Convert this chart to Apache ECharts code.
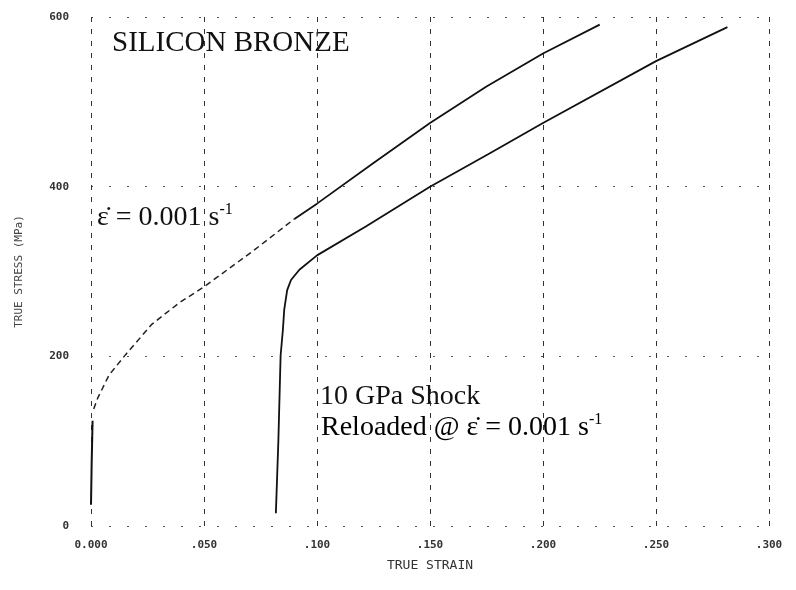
<!DOCTYPE html>
<html>
<head>
<meta charset="utf-8">
<script src="https://cdn.jsdelivr.net/npm/echarts@6/dist/echarts.min.js"></script>
<style>
html,body{margin:0;padding:0;background:#fff;}
#chart{width:796px;height:590px;}
</style>
</head>
<body>
<div id="chart"></div>
<script>
// x ticks / labels
const xTicks = [0, 0.05, 0.10, 0.15, 0.20, 0.25, 0.30];
const xTickLabels = ['0.000', '.050', '.100', '.150', '.200', '.250', '.300'];
const yTicks = [0, 200, 400, 600];

// As-received curve (strain, stress MPa)
const upperElasticStrain = [0.0000, 0.0003, 0.0007];
const upperElasticStress = [25, 75, 124];
const upperMidStrain = [0.0012, 0.0030, 0.0080, 0.0153, 0.0270, 0.0390, 0.0500, 0.0716, 0.0900];
const upperMidStress = [138, 151, 178, 202, 238, 263, 282, 324, 362];
const upperHighStrain = [0.0900, 0.1000, 0.1250, 0.1500, 0.1750, 0.2000, 0.2251];
const upperHighStress = [362, 380, 428, 475, 518, 557, 591];

// 10 GPa shocked, reloaded curve
const shockStrain = [0.0818, 0.0829, 0.0839, 0.0849, 0.0855, 0.0868, 0.0885, 0.0922, 0.1000, 0.1216, 0.1500, 0.1763, 0.2000, 0.2500, 0.2816];
const shockStress = [15, 100, 201, 231, 255, 278, 290, 302, 319, 353, 400, 439, 475, 548, 588];

function pairs(xs, ys) { return xs.map((x, i) => [x, ys[i]]); }

const chart = echarts.init(document.getElementById('chart'));
const lineColor = '#111';
const serif = '"Liberation Serif", "DejaVu Serif", serif';
const mono = '"DejaVu Sans Mono", "Liberation Mono", monospace';

chart.setOption({
  backgroundColor: '#fff',
  animation: false,
  grid: { left: 91, right: 27, top: 17, bottom: 64 },
  xAxis: {
    type: 'value', min: 0, max: 0.30, interval: 0.05,
    name: 'TRUE STRAIN', nameLocation: 'middle', nameGap: 33,
    nameTextStyle: { fontFamily: mono, fontSize: 13, color: '#333' },
    axisLine: { show: false }, axisTick: { show: false },
    axisLabel: {
      margin: 14, fontFamily: mono, fontSize: 11, fontWeight: 'bold', color: '#333',
      formatter: v => { const i = xTicks.findIndex(t => Math.abs(t - v) < 1e-9); return i >= 0 ? xTickLabels[i] : ''; }
    },
    splitLine: { show: true, lineStyle: { color: '#333', width: 1, type: [5, 7] } }
  },
  yAxis: {
    type: 'value', min: 0, max: 600, interval: 200,
    name: 'TRUE STRESS (MPa)', nameLocation: 'middle', nameGap: 66, nameRotate: 90,
    nameTextStyle: { fontFamily: mono, fontSize: 11, color: '#444' },
    axisLine: { show: false }, axisTick: { show: false },
    axisLabel: { margin: 22, fontFamily: mono, fontSize: 11, fontWeight: 'bold', color: '#333',
      formatter: v => yTicks.includes(v) ? String(v) : '' },
    splitLine: { show: true, lineStyle: { color: '#555', width: 1, type: [2, 16] } }
  },
  series: [
    { type: 'line', data: pairs(upperElasticStrain, upperElasticStress), showSymbol: false,
      lineStyle: { color: lineColor, width: 2 } },
    { type: 'line', data: pairs(upperMidStrain, upperMidStress), showSymbol: false,
      lineStyle: { color: '#222', width: 1.5, type: [6, 4] } },
    { type: 'line', data: pairs(upperHighStrain, upperHighStress), showSymbol: false,
      lineStyle: { color: lineColor, width: 1.8 } },
    { type: 'line', data: pairs(shockStrain, shockStress), showSymbol: false,
      lineStyle: { color: lineColor, width: 1.8 } }
  ],
  graphic: [
    { type: 'text', left: 112, top: 29, style: { text: 'SILICON BRONZE', font: '29px ' + serif, fill: '#111' } },
    { type: 'text', left: 97, top: 202, style: {
        text: '{m|ε̇ = 0.001 s}{s|-1}',
        rich: { m: { fontFamily: serif, fontSize: 28, lineHeight: 32, fill: '#111', color: '#111' },
                s: { fontFamily: serif, fontSize: 16, lineHeight: 18, verticalAlign: 'top', color: '#111' } } } },
    { type: 'text', left: 320, top: 383, style: { text: '10 GPa Shock', font: '28px ' + serif, fill: '#111' } },
    { type: 'text', left: 321, top: 412, style: {
        text: '{m|Reloaded @ ε̇ = 0.001 s}{s|-1}',
        rich: { m: { fontFamily: serif, fontSize: 28, lineHeight: 32, color: '#111' },
                s: { fontFamily: serif, fontSize: 16, lineHeight: 18, verticalAlign: 'top', color: '#111' } } } }
  ]
});
</script>
</body>
</html>
